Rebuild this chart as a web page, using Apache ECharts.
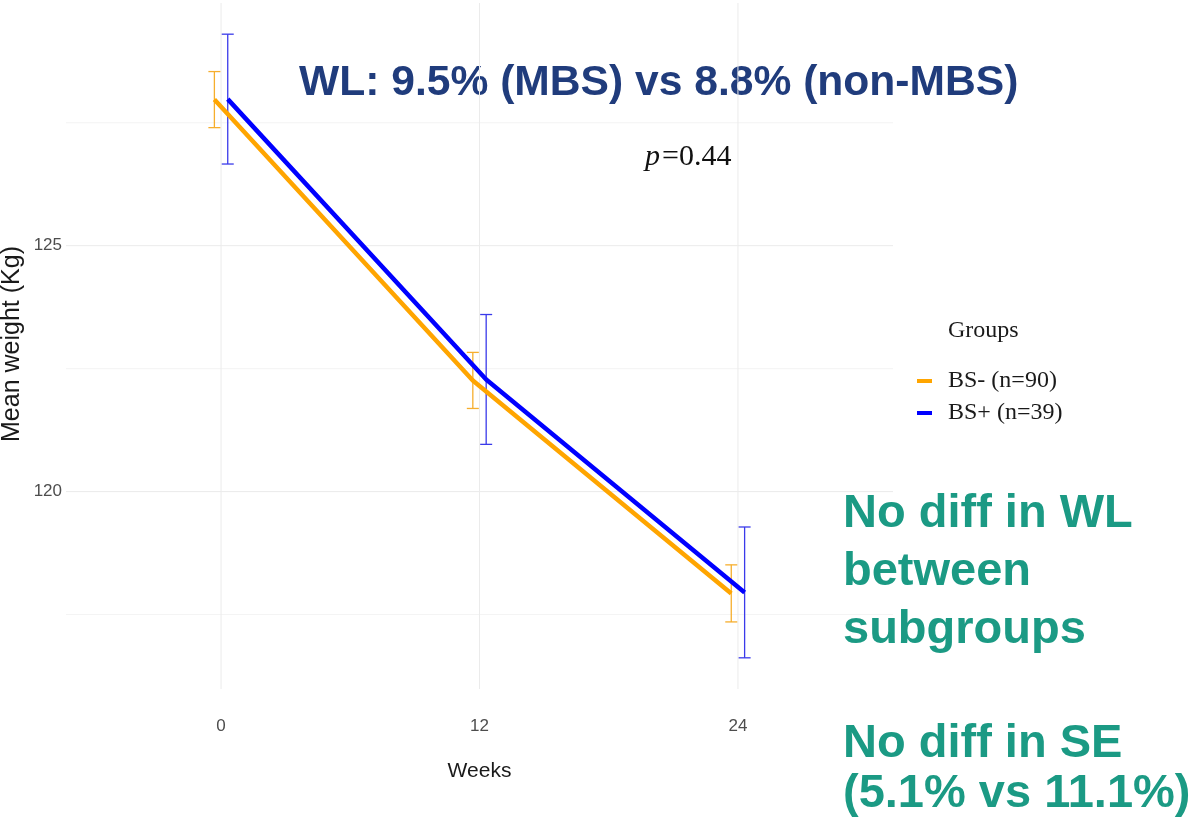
<!DOCTYPE html>
<html>
<head>
<meta charset="utf-8">
<script src="https://cdn.jsdelivr.net/npm/echarts@6/dist/echarts.min.js"></script>
<style>
html,body{margin:0;padding:0;background:#fff;}
#c{width:1193px;height:828px;}
</style>
</head>
<body>
<div id="c"></div>
<script>
// ---- data ----
const weeks = [0, 12, 24];
const groupNames = ['BS- (n=90)', 'BS+ (n=39)'];
const meanBSminus = [127.97, 122.26, 117.93];
const seBSminus = [0.57, 0.57, 0.58];
const meanBSplus = [127.98, 122.28, 117.95];
const seBSplus = [1.32, 1.32, 1.33];
const xTickValues = [0, 12, 24];
const yLabelValues = [120, 125];
const yMinorValues = [117.5, 122.5, 127.5];
const legendTitle = 'Groups';
const yAxisTitle = 'Mean weight (Kg)';
const pText = '0.44';
const headline = 'WL: 9.5% (MBS) vs 8.8% (non-MBS)';
const note1 = ['No diff in WL', 'between', 'subgroups'];
const note2 = ['No diff in SE', '(5.1% vs 11.1%)'];

// ---- scales (ggplot-like expansion) ----
const allLo = meanBSminus.map((m,i)=>m-seBSminus[i]).concat(meanBSplus.map((m,i)=>m-seBSplus[i]));
const allHi = meanBSminus.map((m,i)=>m+seBSminus[i]).concat(meanBSplus.map((m,i)=>m+seBSplus[i]));
const lo = Math.min(...allLo), hi = Math.max(...allHi);
const pad = (hi - lo) * 0.05;
const yMin = lo - pad, yMax = hi + pad;
const step = weeks[1] - weeks[0];
const xMin = weeks[0] - 0.6 * step, xMax = weeks[weeks.length-1] + 0.6 * step;
const dodge = 0.31;

const orange = '#FFA500', blue = '#0000FF';
const orangeErr = '#F6AE2D', blueErr = '#3A3AEA';

function gridSeries(values, horizontal, color){
  return {
    type: 'custom', silent: true, z: 0,
    data: values.map(v => horizontal ? [0, v] : [v, 120]),
    renderItem: function(params, api){
      const cs = params.coordSys;
      if (horizontal){
        const y = api.coord([0, api.value(1)])[1];
        return {type:'line', shape:{x1:cs.x, y1:y, x2:cs.x+cs.width, y2:y}, style:{stroke:color, lineWidth:1}};
      } else {
        const x = api.coord([api.value(0), 120])[0];
        return {type:'line', shape:{x1:x, y1:cs.y, x2:x, y2:cs.y+cs.height}, style:{stroke:color, lineWidth:1}};
      }
    }
  };
}

function errSeries(name, means, ses, off, color){
  return {
    type: 'custom', name: name, z: 3, silent: true,
    encode: {x: 0, y: 1},
    data: weeks.map((w,i)=>[w+off, means[i], ses[i]]),
    renderItem: function(params, api){
      const x = api.value(0), m = api.value(1), s = api.value(2);
      const t = api.coord([x, m+s]), b = api.coord([x, m-s]);
      const w = 6;
      const st = {stroke: color, lineWidth: 1.3};
      return {type:'group', children:[
        {type:'line', shape:{x1:t[0], y1:t[1], x2:b[0], y2:b[1]}, style:st},
        {type:'line', shape:{x1:t[0]-w, y1:t[1], x2:t[0]+w, y2:t[1]}, style:st},
        {type:'line', shape:{x1:b[0]-w, y1:b[1], x2:b[0]+w, y2:b[1]}, style:st}
      ]};
    }
  };
}

function lineSeries(name, means, off, color){
  return {
    type: 'line', name: name, z: 4,
    data: weeks.map((w,i)=>[w+off, means[i]]),
    showSymbol: false, symbol: 'none',
    lineStyle: {color: color, width: 4.5},
    itemStyle: {color: color},
    emphasis: {disabled: true}
  };
}

const noteStyle = {fontFamily:'Liberation Sans', fontWeight:'bold', fontSize:47, fill:'#1B9A84', align:'left', verticalAlign:'middle'};
function note(text, x, y){ return {type:'text', x:x, y:y, silent:true, style:Object.assign({text:text}, noteStyle)}; }

const chart = echarts.init(document.getElementById('c'), null, {renderer: 'canvas'});
chart.setOption({
  animation: false,
  backgroundColor: '#ffffff',
  grid: {left: 66, right: 300, top: 3, bottom: 139, containLabel: false, outerBoundsMode: 'none'},
  xAxis: {
    type: 'value', min: xMin, max: xMax,
    axisLine: {show: false}, axisTick: {show: false}, splitLine: {show: false},
    axisLabel: {customValues: xTickValues, margin: 29, fontSize: 17, color: '#4d4d4d', fontFamily: 'Liberation Sans'},
    name: 'Weeks', nameLocation: 'middle', nameGap: 72,
    nameTextStyle: {fontSize: 21, color: '#1a1a1a', fontFamily: 'Liberation Sans'}
  },
  yAxis: {
    type: 'value', min: yMin, max: yMax,
    axisLine: {show: false}, axisTick: {show: false}, splitLine: {show: false},
    axisLabel: {customValues: yLabelValues, margin: 4, fontSize: 17, color: '#4d4d4d', fontFamily: 'Liberation Sans'}
  },
  legend: {
    orient: 'vertical', left: 912, top: 360, itemGap: 0, padding: 5,
    icon: 'rect', itemWidth: 15, itemHeight: 4,
    data: groupNames,
    selectedMode: false,
    textStyle: {fontFamily: 'Liberation Serif', fontSize: 24, color: '#1a1a1a', lineHeight: 16, padding: [0,0,16,11]}
  },
  graphic: [
    {type:'text', x: 12, y: 344, rotation: Math.PI / 2, silent: true,
      style:{text: yAxisTitle, fontFamily:'Liberation Sans', fontSize:25, fill:'#1a1a1a', align:'center', verticalAlign:'middle'}},
    {type:'text', x: 948, y: 331, silent: true,
      style:{text: legendTitle, fontFamily:'Liberation Serif', fontSize:24, fill:'#1a1a1a', align:'left', verticalAlign:'middle'}},
    {type:'text', x: 645, y: 157, silent: true,
      style:{text: '{i|p}{n|=' + pText + '}', align:'left', verticalAlign:'middle',
        rich:{ i:{fontFamily:'Liberation Serif', fontStyle:'italic', fontSize:30, fill:'#111', padding:[0,2,0,0]},
               n:{fontFamily:'Liberation Serif', fontSize:30, fill:'#111'} }}},
    {type:'text', x: 299, y: 83, silent: true,
      style:{text: headline, fontFamily:'Liberation Sans', fontWeight:'bold', fontSize:42.6, fill:'#203C7C', align:'left', verticalAlign:'middle'}},
    note(note1[0], 843, 514),
    note(note1[1], 843, 572),
    note(note1[2], 843, 630),
    note(note2[0], 843, 744),
    note(note2[1], 843, 794)
  ],
  series: [
    gridSeries(yMinorValues, true, '#f4f4f4'),
    gridSeries(yLabelValues, true, '#ebebeb'),
    gridSeries(xTickValues, false, '#ebebeb'),
    lineSeries(groupNames[0], meanBSminus, -dodge, orange),
    lineSeries(groupNames[1], meanBSplus, dodge, blue),
    errSeries('err-' + groupNames[0], meanBSminus, seBSminus, -dodge, orangeErr),
    errSeries('err-' + groupNames[1], meanBSplus, seBSplus, dodge, blueErr)
  ]
});
</script>
</body>
</html>
